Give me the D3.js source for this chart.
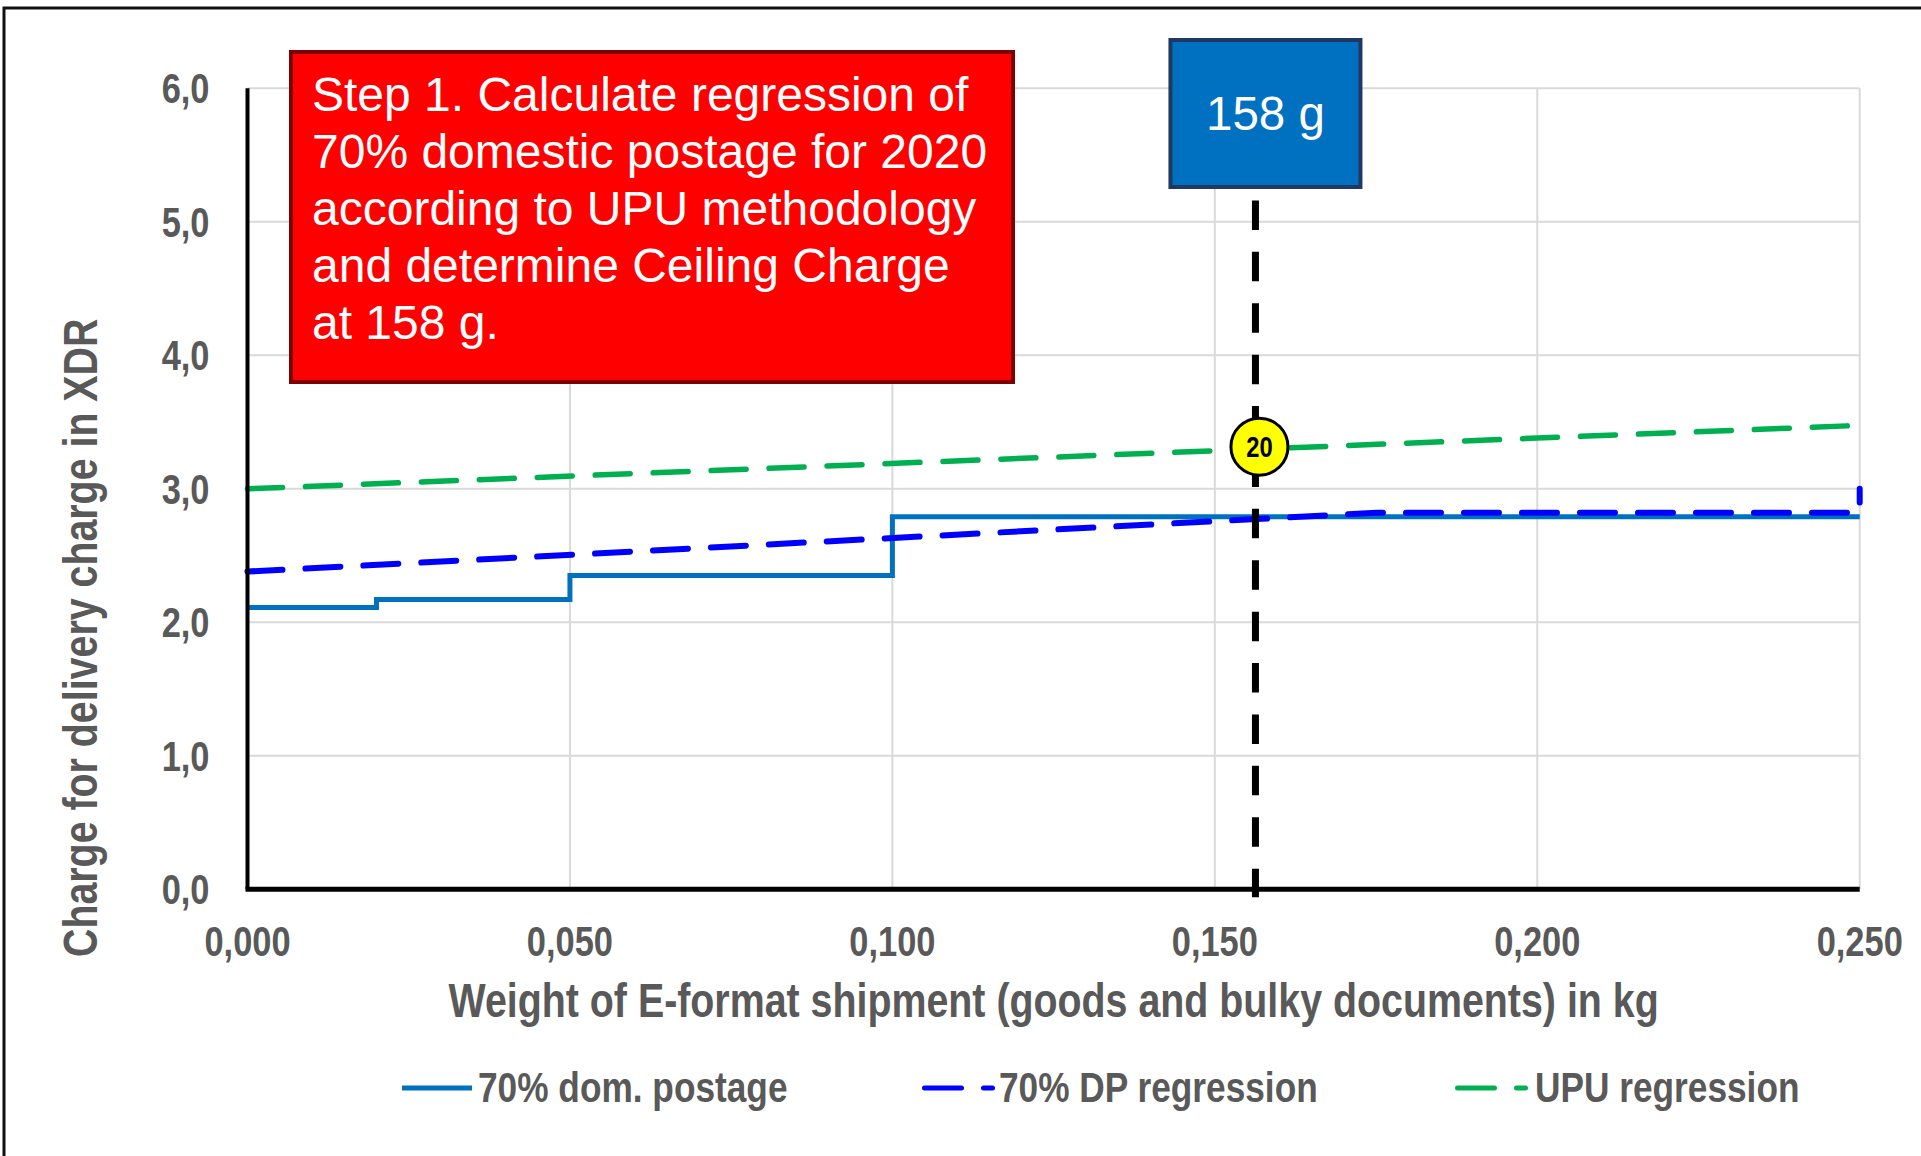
<!DOCTYPE html>
<html>
<head>
<meta charset="utf-8">
<script src="https://cdn.jsdelivr.net/npm/d3@7"></script>
<style>
  body { margin: 0; background: #fff; }
  svg { display: block; }
</style>
</head>
<body>
<svg id="chart"></svg>
<script>
// Data
const xTicks = [0, 0.05, 0.1, 0.15, 0.2, 0.25];
const yTicks = [0, 1, 2, 3, 4, 5, 6];

const postageWeights = [0, 0.02, 0.05, 0.1, 0.25];
const postageCharges = [2.11, 2.17, 2.35, 2.79, 2.79];

const dpWeights = [0, 0.175, 0.25, 0.25];
const dpCharges = [2.38, 2.82, 2.82, 3.0];

const upuWeights = [0, 0.25];
const upuCharges = [3.0, 3.475];

const seriesNames = ['70% dom. postage', '70% DP regression', 'UPU regression'];
const seriesColors = ['#0070C0', '#0000FF', '#00B050'];

const markerWeight = 0.1563;
const markerLabel = '158 g';
const markerBadge = '20';

const noteLines = [
  'Step 1. Calculate regression of',
  '70% domestic postage for 2020',
  'according to UPU methodology',
  'and determine Ceiling Charge',
  'at 158 g.'
];

// Constants
const width = 1921;
const height = 1156;
const margin = {
  left: 247.5,
  right: 61.3,
  top: 88.3,
  bottom: 266.7,
};
const narrow = 0.82; // chart text is a condensed bold face
const textGrey = '#595959';

const svg = d3.select('#chart')
  .attr('width', width)
  .attr('height', height);

const x = d3.scaleLinear().domain([0, 0.25]).range([margin.left, width - margin.right]);
const y = d3.scaleLinear().domain([0, 6]).range([height - margin.bottom, margin.top]);

const comma = d3.formatLocale({ decimal: ',', thousands: '.', grouping: [3], currency: ['', ''] });
const fmtY = comma.format('.1f');
const fmtX = comma.format('.3f');

// outer frame (top and left edge only)
svg.append('path')
  .attr('d', `M${width},8H4V${height}`)
  .attr('fill', 'none')
  .attr('stroke', '#111')
  .attr('stroke-width', 3);

// Step 1: gridlines
svg.selectAll('.hgrid')
  .data(yTicks.filter(d => d > 0))
  .enter()
  .append('line')
  .attr('x1', x(0)).attr('x2', x(0.25))
  .attr('y1', d => y(d)).attr('y2', d => y(d))
  .attr('stroke', '#D9D9D9')
  .attr('stroke-width', 2);

svg.selectAll('.vgrid')
  .data(xTicks.filter(d => d > 0))
  .enter()
  .append('line')
  .attr('x1', d => x(d)).attr('x2', d => x(d))
  .attr('y1', y(0)).attr('y2', y(6))
  .attr('stroke', '#D9D9D9')
  .attr('stroke-width', 2);

// Step 2: series
const zip = (xs, ys) => xs.map((w, i) => [w, ys[i]]);
const line = d3.line().x(d => x(d[0])).y(d => y(d[1]));

svg.append('path')
  .attr('d', line.curve(d3.curveStepAfter)(zip(postageWeights, postageCharges)))
  .attr('fill', 'none')
  .attr('stroke', seriesColors[0])
  .attr('stroke-width', 5);

line.curve(d3.curveLinear);

svg.append('path')
  .attr('d', line(zip(dpWeights, dpCharges)))
  .attr('fill', 'none')
  .attr('stroke', seriesColors[1])
  .attr('stroke-width', 6)
  .attr('stroke-linecap', 'round')
  .attr('stroke-dasharray', '35,23');

svg.append('path')
  .attr('d', line(zip(upuWeights, upuCharges)))
  .attr('fill', 'none')
  .attr('stroke', seriesColors[2])
  .attr('stroke-width', 5.5)
  .attr('stroke-linecap', 'round')
  .attr('stroke-dasharray', '35,23');

// Step 3: axes
svg.append('line')
  .attr('x1', x(0)).attr('x2', x(0))
  .attr('y1', y(0)).attr('y2', y(6))
  .attr('stroke', '#000')
  .attr('stroke-width', 4);

svg.append('line')
  .attr('x1', x(0) - 2).attr('x2', x(0.25))
  .attr('y1', y(0)).attr('y2', y(0))
  .attr('stroke', '#000')
  .attr('stroke-width', 5);

const narrowText = (sel, tx, ty, size, anchor, str, rot) => {
  sel.append('g')
    .attr('transform', `translate(${tx},${ty})` + (rot ? ` rotate(${rot})` : '') + ` scale(${narrow},1)`)
    .append('text')
    .attr('text-anchor', anchor)
    .attr('font-family', '"Liberation Sans", Arial, sans-serif')
    .attr('font-weight', 'bold')
    .attr('font-size', size)
    .attr('fill', textGrey)
    .text(str);
};

yTicks.forEach(t => narrowText(svg, x(0) - 38, y(t) + 15, 42, 'end', fmtY(t)));
xTicks.forEach(t => narrowText(svg, x(t), y(0) + 67, 42, 'middle', fmtX(t)));

// axis titles
narrowText(svg, (x(0) + x(0.25)) / 2, y(0) + 128, 48, 'middle',
  'Weight of E-format shipment (goods and bulky documents) in kg');
narrowText(svg, 97, (y(0) + y(6)) / 2 + 149, 48, 'middle',
  'Charge for delivery charge in XDR', -90);

// Step 4: 158 g marker
const mx = x(markerWeight);
svg.append('line')
  .attr('x1', mx).attr('x2', mx)
  .attr('y1', y(5.16)).attr('y2', y(0) + 8)
  .attr('stroke', '#000')
  .attr('stroke-width', 7)
  .attr('stroke-dasharray', '29.5,21.9');

const upuAt = d3.scaleLinear().domain(upuWeights).range(upuCharges);
const badge = svg.append('g')
  .attr('transform', `translate(${mx + 4},${y(upuAt(markerWeight)) - 2.5})`);
badge.append('circle')
  .attr('r', 28.5)
  .attr('fill', '#FFFF00')
  .attr('stroke', '#000')
  .attr('stroke-width', 3);
badge.append('g')
  .attr('transform', `translate(0,10) scale(${narrow},1)`)
  .append('text')
  .attr('text-anchor', 'middle')
  .attr('font-family', '"Liberation Sans", Arial, sans-serif')
  .attr('font-weight', 'bold')
  .attr('font-size', 29)
  .attr('fill', '#000')
  .text(markerBadge);

// blue weight box
const boxW = 190, boxH = 147;
const boxX = mx + 10 - boxW / 2;
svg.append('rect')
  .attr('x', boxX).attr('y', 40)
  .attr('width', boxW).attr('height', boxH)
  .attr('fill', '#0070C0')
  .attr('stroke', '#203864')
  .attr('stroke-width', 4);
svg.append('text')
  .attr('x', boxX + boxW / 2).attr('y', 130)
  .attr('text-anchor', 'middle')
  .attr('font-family', '"Liberation Sans", Arial, sans-serif')
  .attr('font-size', 47.5)
  .attr('fill', '#fff')
  .text(markerLabel);

// Step 5: red note box
svg.append('rect')
  .attr('x', 291).attr('y', 52)
  .attr('width', 722).attr('height', 330)
  .attr('fill', '#FF0000')
  .attr('stroke', '#7F0000')
  .attr('stroke-width', 4);

svg.append('g')
  .selectAll('text')
  .data(noteLines)
  .enter()
  .append('text')
  .attr('x', 312)
  .attr('y', (d, i) => 110.5 + i * 57.2)
  .attr('font-family', '"Liberation Sans", Arial, sans-serif')
  .attr('font-size', 48)
  .attr('fill', '#fff')
  .text(d => d);

// Step 6: legend
const legendY = 1088;
const legendStarts = [402, 922, 1455];
const legendLens = [70, 73, 73];
const legendGaps = [6, 4, 7];

seriesNames.forEach((name, i) => {
  const x0 = legendStarts[i];
  const dashed = i > 0;
  svg.append('line')
    .attr('x1', x0 + (dashed ? 2.5 : 0))
    .attr('x2', x0 + legendLens[i] - (dashed ? 2.5 : 0))
    .attr('y1', legendY).attr('y2', legendY)
    .attr('stroke', seriesColors[i])
    .attr('stroke-width', 5)
    .attr('stroke-linecap', dashed ? 'round' : 'butt')
    .attr('stroke-dasharray', dashed ? '37,22' : null);
  narrowText(svg, x0 + legendLens[i] + legendGaps[i], legendY + 14, 43, 'start', name);
});
</script>
</body>
</html>
